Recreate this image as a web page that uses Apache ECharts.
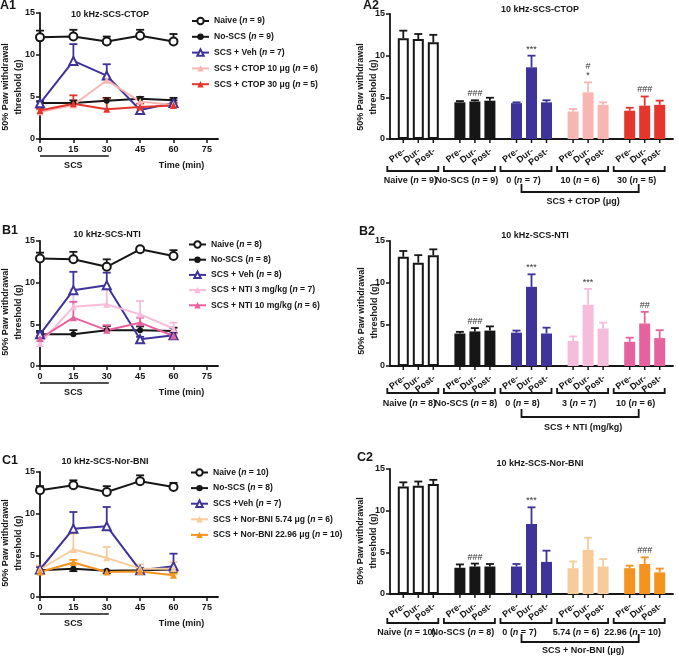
<!DOCTYPE html>
<html><head><meta charset="utf-8">
<script src="https://cdn.jsdelivr.net/npm/echarts@6/dist/echarts.min.js"></script>
<style>html,body{margin:0;padding:0;background:#fff}#c{width:678px;height:659px}</style>
</head><body><div id="c"></div>
<script>
// ---------- data ----------
const times = [0, 15, 30, 45, 60];
const xTicks = [0, 15, 30, 45, 60, 75];
const phases = ['Pre-', 'Dur-', 'Post-'];

// A1
const a1Title = '10 kHz-SCS-CTOP';
const a1Labels = ['Naive', 'No-SCS', 'SCS + Veh', 'SCS + CTOP 10 μg', 'SCS + CTOP 30 μg'];
const a1N = [9, 9, 7, 6, 5];
const a1Naive = [12.1, 12.2, 11.6, 12.3, 11.6];
const a1NaiveErr = [0.8, 0.8, 0.6, 0.7, 0.9];
const a1NoScs = [4.3, 4.3, 4.55, 4.8, 4.6];
const a1NoScsErr = [0.2, 0.3, 0.35, 0.2, 0.3];
const a1Veh = [4.25, 9.3, 7.55, 3.45, 4.3];
const a1VehErr = [0.2, 2.0, 1.35, 0.3, 0.3];
const a1Ctop10 = [3.2, 4.05, 7.0, 4.45, 4.05];
const a1Ctop10Err = [0.3, 0.3, 0.4, 0.4, 0.3];
const a1Ctop30 = [3.4, 4.2, 3.55, 3.8, 4.0];
const a1Ctop30Err = [0.2, 1.0, 1.25, 0.4, 0.3];

// B1
const b1Title = '10 kHz-SCS-NTI';
const b1Labels = ['Naive', 'No-SCS', 'SCS + Veh', 'SCS + NTI 3 mg/kg', 'SCS + NTI 10 mg/kg'];
const b1N = [8, 8, 8, 7, 6];
const b1Naive = [12.9, 12.8, 11.9, 14.0, 13.2];
const b1NaiveErr = [0.7, 0.9, 0.9, 0.3, 0.7];
const b1NoScs = [3.8, 3.8, 4.3, 4.3, 4.2];
const b1NoScsErr = [0.4, 0.5, 0.5, 0.45, 0.4];
const b1Veh = [3.8, 9.1, 9.7, 3.2, 3.7];
const b1VehErr = [0.2, 2.2, 1.5, 0.3, 0.3];
const b1Nti3 = [2.7, 7.1, 7.4, 6.2, 4.5];
const b1Nti3Err = [0.3, 2.1, 1.9, 1.6, 0.7];
const b1Nti10 = [3.3, 5.8, 4.3, 5.2, 3.6];
const b1Nti10Err = [0.3, 1.9, 0.6, 0.6, 0.3];

// C1
const c1Title = '10 kHz-SCS-Nor-BNI';
const c1Labels = ['Naive', 'No-SCS', 'SCS +Veh', 'SCS + Nor-BNI 5.74 μg', 'SCS + Nor-BNI 22.96 μg'];
const c1N = [10, 8, 7, 6, 10];
const c1Naive = [12.8, 13.4, 12.6, 13.9, 13.2];
const c1NaiveErr = [0.5, 0.6, 0.7, 0.7, 0.5];
const c1NoScs = [3.2, 3.4, 3.15, 3.2, 3.3];
const c1NoScsErr = [0.3, 0.3, 0.3, 0.3, 0.3];
const c1Veh = [3.3, 8.2, 8.5, 3.2, 3.7];
const c1VehErr = [0.3, 2.0, 2.3, 0.3, 1.5];
const c1Bni5 = [3.3, 5.7, 4.7, 3.4, 3.4];
const c1Bni5Err = [0.5, 1.9, 1.3, 0.5, 0.8];
const c1Bni22 = [3.0, 4.15, 3.0, 3.05, 2.6];
const c1Bni22Err = [0.2, 0.3, 0.2, 0.2, 0.2];

// A2
const a2Title = '10 kHz-SCS-CTOP';
const a2Groups = ['Naive', 'No-SCS', '0', '10', '30'];
const a2N = [9, 9, 7, 6, 5];
const a2Pre = [12.1, 4.4, 4.3, 3.3, 3.4];
const a2Dur = [12.0, 4.5, 8.6, 5.6, 4.0];
const a2Post = [11.6, 4.6, 4.4, 4.1, 4.1];
const a2PreErr = [0.9, 0.15, 0.1, 0.3, 0.35];
const a2DurErr = [0.6, 0.15, 1.4, 1.2, 1.1];
const a2PostErr = [0.9, 0.35, 0.25, 0.3, 0.5];
const a2Marks = [[1, 1, '###'], [2, 1, '***'], [3, 1, '#\n*'], [4, 1, '###']];
const a2Treat = 'SCS + CTOP (μg)';

// B2
const b2Title = '10 kHz-SCS-NTI';
const b2Groups = ['Naive', 'No-SCS', '0', '3', '10'];
const b2N = [8, 8, 8, 7, 6];
const b2Pre = [13.1, 3.9, 4.0, 3.0, 2.9];
const b2Dur = [12.4, 4.15, 9.5, 7.35, 5.1];
const b2Post = [13.3, 4.25, 3.9, 4.5, 3.35];
const b2PreErr = [0.7, 0.2, 0.25, 0.55, 0.5];
const b2DurErr = [0.9, 0.4, 1.5, 1.9, 1.4];
const b2PostErr = [0.7, 0.5, 0.7, 0.7, 0.95];
const b2Marks = [[1, 1, '###'], [2, 1, '***'], [3, 1, '***'], [4, 1, '##']];
const b2Treat = 'SCS + NTI (mg/kg)';

// C2
const c2Title = '10 kHz-SCS-Nor-BNI';
const c2Groups = ['Naive', 'No-SCS', '0', '5.74', '22.96'];
const c2N = [10, 8, 7, 6, 10];
const c2Pre = [12.9, 3.15, 3.3, 3.1, 3.1];
const c2Dur = [13.0, 3.3, 8.4, 5.3, 3.6];
const c2Post = [13.2, 3.3, 3.85, 3.3, 2.6];
const c2PreErr = [0.5, 0.4, 0.3, 0.8, 0.3];
const c2DurErr = [0.5, 0.35, 2.0, 1.45, 0.8];
const c2PostErr = [0.5, 0.3, 1.35, 0.9, 0.45];
const c2Marks = [[1, 1, '###'], [2, 1, '***'], [4, 1, '###']];
const c2Treat = 'SCS + Nor-BNI (μg)';

// ---------- styling / layout ----------
const FONT = '"Liberation Sans", Arial, sans-serif';
const INK = '#161616';
const BLUE = '#3d3399';
const SYMBOLS = ['emptyCircle', 'circle', 'emptyTriangle', 'triangle', 'triangle'];
const SYMSIZE = [8, 6, 8, 7, 7];

const linePanels = [
  { key: 'A1', title: a1Title, labels: a1Labels, n: a1N,
    values: [a1Naive, a1NoScs, a1Veh, a1Ctop10, a1Ctop30],
    errs: [a1NaiveErr, a1NoScsErr, a1VehErr, a1Ctop10Err, a1Ctop30Err], dirs: [1, 1, 1, 1, 1],
    colors: [INK, INK, BLUE, '#f8b6b3', '#e4362c'],
    grid: { left: 40, top: 13, width: 178, height: 126 }, legend: { left: 191, top: 16.5, gap: 6.8 },
    titlePos: [110, 15], letterPos: [0, 6], namePos: [12, 87] },
  { key: 'B1', title: b1Title, labels: b1Labels, n: b1N,
    values: [b1Naive, b1NoScs, b1Veh, b1Nti3, b1Nti10],
    errs: [b1NaiveErr, b1NoScsErr, b1VehErr, b1Nti3Err, b1Nti10Err], dirs: [1, 1, 1, 1, 1],
    colors: [INK, INK, BLUE, '#f5bcdb', '#e6629f'],
    grid: { left: 40, top: 241, width: 178, height: 125 }, legend: { left: 188, top: 240, gap: 6.2 },
    titlePos: [107, 235], letterPos: [2, 231], namePos: [12, 312] },
  { key: 'C1', title: c1Title, labels: c1Labels, n: c1N,
    values: [c1Naive, c1NoScs, c1Veh, c1Bni5, c1Bni22],
    errs: [c1NaiveErr, c1NoScsErr, c1VehErr, c1Bni5Err, c1Bni22Err], dirs: [1, -1, 1, 1, 1],
    colors: [INK, INK, BLUE, '#f8cb9b', '#f39320'],
    grid: { left: 40, top: 472, width: 178, height: 125 }, legend: { left: 190, top: 468, gap: 6.6 },
    titlePos: [105, 462], letterPos: [2, 461], namePos: [12, 543] }
];

const barPanels = [
  { key: 'A2', title: a2Title, groups: a2Groups, n: a2N, vals: [a2Pre, a2Dur, a2Post],
    errs: [a2PreErr, a2DurErr, a2PostErr], marks: a2Marks, treat: a2Treat,
    colors: [INK, INK, BLUE, '#f8b6b3', '#e4362c'],
    grid: { left: 390, top: 14, width: 283, height: 125 },
    off: { br: 32, lab: 42, big: 53, bigLab: 63 }, labShift: -8,
    titlePos: [540, 10], letterPos: [363, 6], namePos: [367, 87] },
  { key: 'B2', title: b2Title, groups: b2Groups, n: b2N, vals: [b2Pre, b2Dur, b2Post],
    errs: [b2PreErr, b2DurErr, b2PostErr], marks: b2Marks, treat: b2Treat,
    colors: [INK, INK, BLUE, '#f5bcdb', '#e6629f'],
    grid: { left: 390, top: 241, width: 283, height: 125 },
    off: { br: 27, lab: 38, big: 51, bigLab: 62 }, labShift: -9,
    titlePos: [535, 236], letterPos: [359, 232], namePos: [368, 311] },
  { key: 'C2', title: c2Title, groups: c2Groups, n: c2N, vals: [c2Pre, c2Dur, c2Post],
    errs: [c2PreErr, c2DurErr, c2PostErr], marks: c2Marks, treat: c2Treat,
    colors: [INK, INK, BLUE, '#f8cb9b', '#f39320'],
    grid: { left: 390, top: 469, width: 283, height: 125 },
    off: { br: 29, lab: 39, big: 48, bigLab: 57 }, labShift: -12,
    titlePos: [540, 464], letterPos: [357, 458], namePos: [367, 541] }
];

const BAR_W = 11, BAR_STEP = 15;
const txt = (size, weight) => ({ fontFamily: FONT, fontSize: size, fontWeight: weight || 'bold', color: INK });
const RICH = {
  t: { fontFamily: FONT, fontSize: 9, fontWeight: 'bold', fill: INK, color: INK },
  i: { fontFamily: FONT, fontSize: 9, fontWeight: 'bold', fontStyle: 'italic', fill: INK, color: INK }
};
const richLabel = (label, n) => `{t|${label} (}{i|n}{t| = ${n})}`;

function valueAxis(gridIndex, extra) {
  return Object.assign({
    gridIndex, type: 'value', min: 0, max: 15, interval: 5,
    axisLine: { show: true, onZero: false, lineStyle: { color: INK, width: 1.8 } },
    axisTick: { show: true, length: 4, lineStyle: { color: INK, width: 1.5 } },
    axisLabel: Object.assign({ margin: 5 }, txt(9)),
    splitLine: { show: false }
  }, extra || {});
}

const option = { animation: false, backgroundColor: '#fff', grid: [], xAxis: [], yAxis: [], legend: [], series: [], graphic: [] };
const legendNames = {};

// ---------- line panels ----------
linePanels.forEach(p => {
  const gi = option.grid.length;
  option.grid.push(Object.assign({ containLabel: false }, p.grid));
  option.xAxis.push({
    gridIndex: gi, type: 'value', min: 0, max: 80,
    axisLine: { show: true, onZero: false, lineStyle: { color: INK, width: 1.8 } },
    axisTick: { show: true, customValues: xTicks, length: 4, lineStyle: { color: INK, width: 1.5 } },
    axisLabel: Object.assign({ customValues: xTicks, margin: 6 }, txt(9)),
    splitLine: { show: false }
  });
  option.yAxis.push(valueAxis(gi));
  const keys = [];
  p.values.forEach((vals, i) => {
    const name = p.key + '-' + i;
    keys.push(name);
    legendNames[name] = [p.labels[i], p.n[i]];
    const col = p.colors[i];
    const errs = p.errs[i], dir = p.dirs[i];
    option.series.push({
      type: 'custom', xAxisIndex: gi, yAxisIndex: gi, clip: false, silent: true, z: 2,
      data: times.map((t, k) => [t, vals[k]]),
      encode: { x: 0, y: 1 },
      renderItem: (params, api) => {
        const k = params.dataIndex;
        const a = api.coord([times[k], vals[k]]);
        const b = api.coord([times[k], vals[k] + dir * errs[k]]);
        const st = { stroke: col, lineWidth: 1.8 };
        return { type: 'group', children: [
          { type: 'line', shape: { x1: a[0], y1: a[1], x2: b[0], y2: b[1] }, style: st },
          { type: 'line', shape: { x1: b[0] - 4, y1: b[1], x2: b[0] + 4, y2: b[1] }, style: st }
        ] };
      }
    });
    option.series.push({
      type: 'line', name, xAxisIndex: gi, yAxisIndex: gi, clip: false, z: 3,
      data: times.map((t, k) => [t, vals[k]]),
      symbol: SYMBOLS[i], symbolSize: SYMSIZE[i],
      itemStyle: { color: col, borderColor: col, borderWidth: SYMBOLS[i].startsWith('empty') ? 1.8 : 0 },
      lineStyle: { color: col, width: 2 }
    });
  });
  option.legend.push({
    orient: 'vertical', left: p.legend.left, top: p.legend.top, padding: 0,
    itemWidth: 17, itemHeight: 8, itemGap: p.legend.gap, selectedMode: false,
    data: keys, formatter: nm => richLabel(legendNames[nm][0], legendNames[nm][1]),
    textStyle: { rich: { t: Object.assign({}, RICH.t, { fontSize: 8.6 }), i: Object.assign({}, RICH.i, { fontSize: 8.6 }) } }
  });
  // SCS bar and axis captions
  option.series.push({
    type: 'custom', xAxisIndex: gi, yAxisIndex: gi, clip: false, silent: true,
    data: [[0, 0]], encode: { x: 0, y: 1 },
    renderItem: (params, api) => {
      const o = api.coord([0, 0]);
      const e = api.coord([30, 0]);
      const t = api.coord([60, 0]);
      return { type: 'group', children: [
        { type: 'line', shape: { x1: o[0], y1: o[1] + 17, x2: e[0] + 2, y2: o[1] + 17 }, style: { stroke: INK, lineWidth: 1.5 } },
        { type: 'text', x: (o[0] + e[0]) / 2, y: o[1] + 27, style: { text: 'SCS', align: 'center', verticalAlign: 'middle', font: `bold 9px ${FONT}`, fill: INK } },
        { type: 'text', x: t[0] + 8, y: o[1] + 27, style: { text: 'Time (min)', align: 'center', verticalAlign: 'middle', font: `bold 9px ${FONT}`, fill: INK } }
      ] };
    }
  });
  addPanelTexts(p);
});

// ---------- bar panels ----------
barPanels.forEach(p => {
  const gi = option.grid.length;
  option.grid.push(Object.assign({ containLabel: false }, p.grid));
  option.xAxis.push({
    gridIndex: gi, type: 'category', data: p.groups,
    axisLine: { show: true, lineStyle: { color: INK, width: 1.8 } },
    axisTick: { show: false }, axisLabel: { show: false }, splitLine: { show: false }
  });
  option.yAxis.push(valueAxis(gi));
  const fillOf = g => (g === 0 ? '#ffffff' : p.colors[g]);
  p.vals.forEach((vals, j) => {
    option.series.push({
      type: 'bar', name: p.key + '-' + phases[j], xAxisIndex: gi, yAxisIndex: gi,
      barWidth: BAR_W, barGap: ((BAR_STEP - BAR_W) / BAR_W * 100).toFixed(1) + '%', z: 2,
      data: vals.map((v, g) => ({ value: v, itemStyle: { color: fillOf(g), borderColor: g === 0 ? INK : p.colors[g], borderWidth: g === 0 ? 2 : 0 } }))
    });
  });
  // error bars
  const errItems = [];
  p.vals.forEach((vals, j) => vals.forEach((v, g) => errItems.push([g, v, j])));
  option.series.push({
    type: 'custom', xAxisIndex: gi, yAxisIndex: gi, clip: false, silent: true, z: 1,
    data: errItems.map(d => [d[0], d[1]]), encode: { x: 0, y: 1 },
    renderItem: (params, api) => {
      const [g, v, j] = errItems[params.dataIndex];
      const e = p.errs[j][g];
      const a = api.coord([g, v]);
      const b = api.coord([g, v + e]);
      const x = a[0] + (j - 1) * BAR_STEP;
      const st = { stroke: p.colors[g], lineWidth: 1.8 };
      return { type: 'group', children: [
        { type: 'line', shape: { x1: x, y1: a[1], x2: x, y2: b[1] }, style: st },
        { type: 'line', shape: { x1: x - 4, y1: b[1], x2: x + 4, y2: b[1] }, style: st }
      ] };
    }
  });
  // significance marks
  option.series.push({
    type: 'custom', xAxisIndex: gi, yAxisIndex: gi, clip: false, silent: true,
    data: p.marks.map(m => [m[0], p.vals[m[1]][m[0]] + p.errs[m[1]][m[0]]]), encode: { x: 0, y: 1 },
    renderItem: (params, api) => {
      const [g, j, s] = p.marks[params.dataIndex];
      const top = api.coord([g, p.vals[j][g] + p.errs[j][g]]);
      const x = top[0] + (j - 1) * BAR_STEP;
      return { type: 'text', x, y: top[1] - 2, style: { text: s, align: 'center', verticalAlign: 'bottom', font: `9px ${FONT}`, lineHeight: 9, fill: '#333' } };
    }
  });
  // phase labels, ticks, group brackets & labels
  option.series.push({
    type: 'custom', xAxisIndex: gi, yAxisIndex: gi, clip: false, silent: true,
    data: p.groups.map((g, i) => [i, 0]), encode: { x: 0, y: 1 },
    renderItem: (params, api) => {
      const g = params.dataIndex;
      const c = api.coord([g, 0]);
      const x0 = c[0], y0 = c[1];
      const ch = [];
      phases.forEach((ph, j) => {
        const x = x0 + (j - 1) * BAR_STEP;
        ch.push({ type: 'line', shape: { x1: x, y1: y0, x2: x, y2: y0 + 4 }, style: { stroke: INK, lineWidth: 1.5 } });
        ch.push({ type: 'text', x: x + 1, y: y0 + 11, rotation: 38 * Math.PI / 180,
          style: { text: ph, align: 'right', verticalAlign: 'middle', font: `bold 9px ${FONT}`, fill: INK } });
      });
      const yb = y0 + p.off.br;
      ch.push({ type: 'polyline', shape: { points: [[x0 - 31, yb - 5], [x0 - 31, yb], [x0 + 20, yb], [x0 + 20, yb - 5]] },
        style: { stroke: INK, lineWidth: 1.8, fill: null } });
      ch.push({ type: 'text', x: x0 + p.labShift, y: y0 + p.off.lab,
        style: { text: richLabel(p.groups[g], p.n[g]), rich: RICH, align: 'center', verticalAlign: 'middle' } });
      return { type: 'group', children: ch };
    }
  });
  // treatment bracket
  option.series.push({
    type: 'custom', xAxisIndex: gi, yAxisIndex: gi, clip: false, silent: true,
    data: [[3, 0]], encode: { x: 0, y: 1 },
    renderItem: (params, api) => {
      const a = api.coord([2, 0]), m = api.coord([3, 0]), b = api.coord([4, 0]);
      const y = a[1] + p.off.big;
      return { type: 'group', children: [
        { type: 'polyline', shape: { points: [[a[0] - 10, y - 8], [a[0] - 10, y], [b[0] - 6, y], [b[0] - 6, y - 8]] },
          style: { stroke: INK, lineWidth: 1.8, fill: null } },
        { type: 'text', x: m[0] - 5, y: a[1] + p.off.bigLab,
          style: { text: p.treat, align: 'center', verticalAlign: 'middle', font: `bold 9px ${FONT}`, fill: INK } }
      ] };
    }
  });
  addPanelTexts(p);
});

function addPanelTexts(p) {
  option.graphic.push({ type: 'text', x: p.titlePos[0], y: p.titlePos[1], silent: true,
    style: { text: p.title, align: 'center', verticalAlign: 'middle', font: `bold 9px ${FONT}`, fill: INK } });
  option.graphic.push({ type: 'text', x: p.letterPos[0], y: p.letterPos[1], silent: true,
    style: { text: p.key, align: 'left', verticalAlign: 'middle', font: `bold 12.5px ${FONT}`, fill: INK } });
  option.graphic.push({ type: 'text', x: p.namePos[0], y: p.namePos[1], rotation: Math.PI / 2, silent: true,
    style: { text: '50% Paw withdrawal\nthreshold (g)', align: 'center', verticalAlign: 'middle', lineHeight: 13, font: `bold 9px ${FONT}`, fill: INK } });
}

const chart = echarts.init(document.getElementById('c'));
chart.setOption(option);
</script></body></html>
